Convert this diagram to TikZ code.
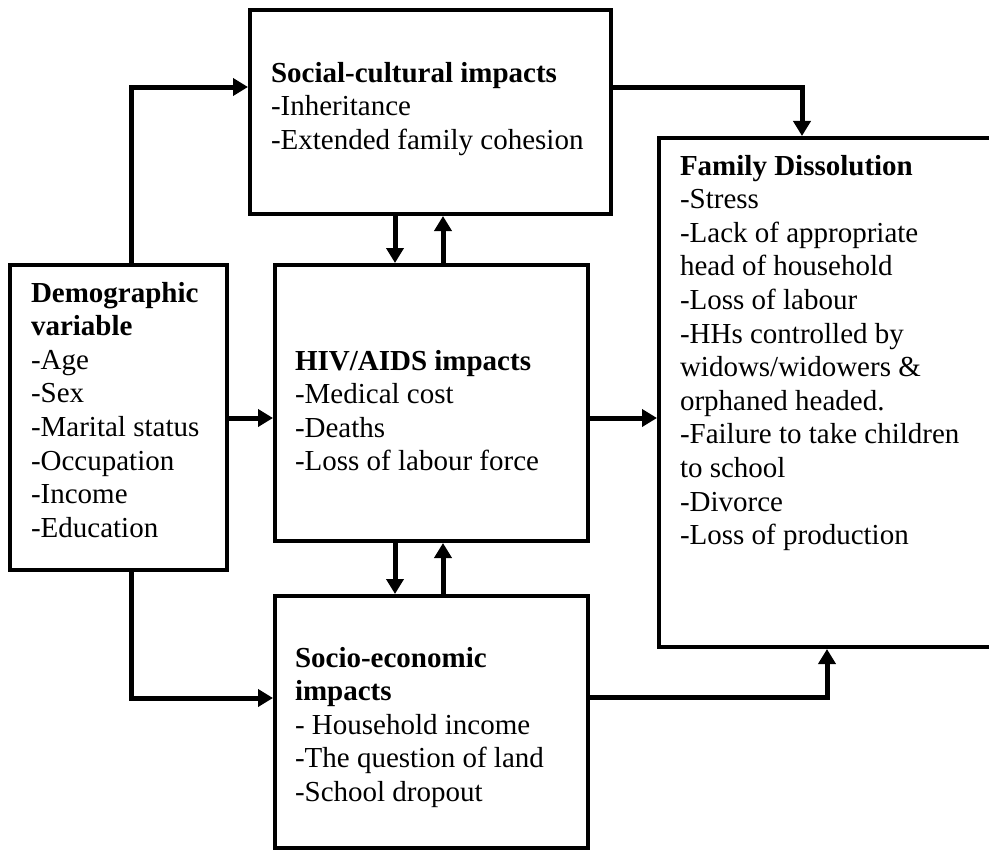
\documentclass[tikz,border=0pt]{standalone}
\usepackage{fontspec}
\setmainfont{Liberation Serif}
\usetikzlibrary{arrows.meta,calc}
\newcommand\boxtext[1]{\begin{tabular}[t]{@{}l@{}}#1\end{tabular}}
\begin{document}
\begin{tikzpicture}[x=1bp,y=-1bp,
  box/.style={draw, line width=4bp, inner sep=0pt, outer sep=2bp, fill=none},
  txt/.style={anchor=base west, inner sep=0pt, outer sep=0pt,
    font=\fontsize{29bp}{33.6bp}\selectfont},
  arr/.style={line width=5bp, line join=miter,
    -{Triangle[width=17bp,length=15bp]}}]
\useasboundingbox (0,0) rectangle (989,851);

% boxes
\node[box, minimum width=361bp, minimum height=204bp] (social) at (430.5,112) {};
\node[box, minimum width=217bp, minimum height=305bp] (demo)   at (118.5,417.5) {};
\node[box, minimum width=313bp, minimum height=276bp] (hiv)    at (431.5,403) {};
\node[box, minimum width=313bp, minimum height=252bp] (socio)  at (431.5,722) {};
\node[box, minimum width=336bp, minimum height=509bp] (family) at (827,392.5) {};

% texts
\node[txt] (socialtxt) at (271,82) {\boxtext{\textbf{Social-cultural impacts}\\
  -Inheritance\\ -Extended family cohesion}};
\node[txt] (demotxt) at (31,302) {\boxtext{\textbf{Demographic}\\ \textbf{variable}\\
  -Age\\ -Sex\\ -Marital status\\ -Occupation\\ -Income\\ -Education}};
\node[txt] (hivtxt) at (295,370) {\boxtext{\textbf{HIV/AIDS impacts}\\
  -Medical cost\\ -Deaths\\ -Loss of labour force}};
\node[txt] (sociotxt) at (295,667) {\boxtext{\textbf{Socio-economic}\\ \textbf{impacts}\\
  - Household income\\ -The question of land\\ -School dropout}};
\node[txt] (familytxt) at (680,175) {\boxtext{\textbf{Family Dissolution}\\
  -Stress\\ -Lack of appropriate\\ head of household\\ -Loss of labour\\
  -HHs controlled by\\ widows/widowers \&\\ orphaned headed.\\
  -Failure to take children\\ to school\\ -Divorce\\ -Loss of production}};

% helper coordinates
\coordinate (c1) at (131,87);
\coordinate (c2) at (802,87);
\coordinate (c3) at (131,698);
\coordinate (c4) at (827,697);
\coordinate (cx1) at (395,0);
\coordinate (cx2) at (443,0);
\coordinate (cy1) at (0,418);

% connectors
\draw[arr] (demo.north -| c1) |- (social.west |- c1);
\draw[arr] (social.east |- c2) -| (family.north -| c2);
\draw[arr] (social.south -| cx1) -- (hiv.north -| cx1);
\draw[arr] (hiv.north -| cx2) -- (social.south -| cx2);
\draw[arr] (hiv.south -| cx1) -- (socio.north -| cx1);
\draw[arr] (socio.north -| cx2) -- (hiv.south -| cx2);
\draw[arr] (demo.east |- cy1) -- (hiv.west |- cy1);
\draw[arr] (hiv.east |- cy1) -- (family.west |- cy1);
\draw[arr] (demo.south -| c3) |- (socio.west |- c3);
\draw[arr] (socio.east |- c4) -| (family.south -| c4);
\end{tikzpicture}
\end{document}
